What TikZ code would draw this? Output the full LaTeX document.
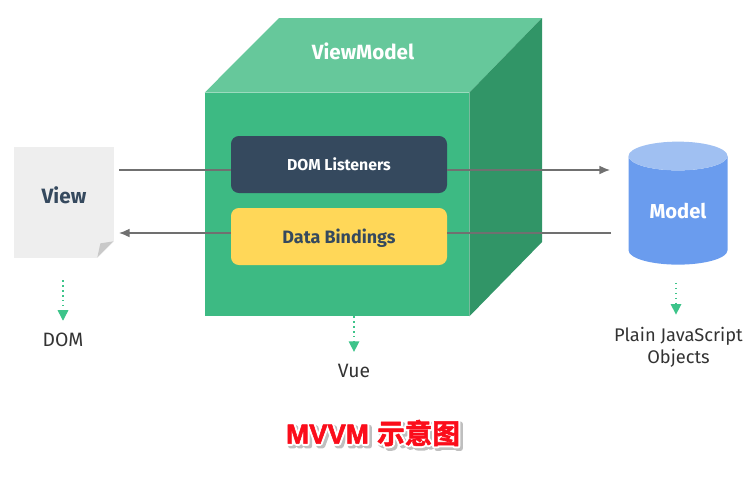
\documentclass[tikz,border=0pt]{standalone}
\usepackage{fontspec}
\setmainfont{Fira Sans}
\newfontfamily\titlefont{Liberation Sans}[BoldFont={Liberation Sans Bold}]
\newfontfamily\cjkfont{Noto Sans CJK SC}[BoldFont={Noto Sans CJK SC Bold}]
\usepackage{xcolor}
\usetikzlibrary{
    positioning,
    arrows.meta,
    shapes.geometric,
    calc
}
\definecolor{cubefront}{HTML}{3DBA83}
\definecolor{cubetop}{HTML}{66C89B}
\definecolor{cubeside}{HTML}{319567}
\definecolor{navy}{HTML}{35495E}
\definecolor{bindyellow}{HTML}{FFD758}
\definecolor{paper}{HTML}{EEEEEE}
\definecolor{foldgrey}{HTML}{C9C9C9}
\definecolor{modelblue}{HTML}{6A9CEE}
\definecolor{modeltop}{HTML}{A0C0F2}
\definecolor{linegrey}{HTML}{707070}
\definecolor{dotgreen}{HTML}{3DC48A}
\definecolor{titlered}{HTML}{FB0D1B}

\begin{document}
\begin{tikzpicture}[font=\fontsize{11}{13}\selectfont,
    ibox/.style={rounded corners=4.5pt, minimum width=4.32cm, minimum height=1.14cm,
                 align=center, inner sep=0pt, font=\fontsize{9}{11}\selectfont\bfseries},
    arr/.style={-{Latex[length=6pt,width=5pt]}, line width=0.75pt, draw=linegrey},
    plainline/.style={line width=0.75pt, draw=linegrey},
    dotarr/.style={-{Triangle[length=6pt,width=6pt]}, dotted, line width=0.8pt, draw=dotgreen},
    labl/.style={align=center, inner sep=0pt, text=black!80},
    titletxt/.style={inner sep=0pt, font=\fontsize{15.7}{18}\selectfont\bfseries}]

    \useasboundingbox (0,0) rectangle (15.08,9.6);

    % ViewModel cube
    \node[fill=cubefront, minimum width=5.28cm, minimum height=4.46cm, inner sep=0pt] (front) at (6.74,5.51) {};
    \coordinate (backL) at (5.58,9.24);
    \coordinate (backR) at (10.84,9.24);
    \coordinate (sideB) at (10.84,4.76);
    \fill[cubetop] (front.north west) -- (backL) -- (backR) -- (front.north east) -- cycle;
    \fill[cubeside] (front.north east) -- (backR) -- (sideB) -- (front.south east) -- cycle;
    \node[text=white, inner sep=0pt, font=\fontsize{11.7}{13}\selectfont\bfseries] (vmlabel) at (7.26,8.58) {ViewModel};

    \node[ibox, fill=navy, text=white, text depth=0pt] (listeners) at (6.78,6.31) {DOM Listeners};
    \node[ibox, fill=bindyellow, text=navy, text depth=0pt, font=\fontsize{10.2}{12}\selectfont\bfseries] (bindings) at (6.78,4.87) {Data Bindings};

    % View page
    \node[fill=paper, minimum width=2.0cm, minimum height=2.22cm, inner sep=0pt,
          label={[text=navy, font=\fontsize{11.8}{13}\selectfont\bfseries, yshift=0.14cm]center:View}] (view) at (1.28,5.55) {};
    \fill[white] (view.south east) -- +(0,0.34) -- +(-0.34,0) -- cycle;
    \fill[foldgrey] ($(view.south east)+(-0.02,0.34)$) -- ($(view.south east)+(-0.28,0.30)$) -- ($(view.south east)+(-0.34,0.02)$) -- cycle;

    % Model cylinder
    \node[cylinder, shape border rotate=90, aspect=0.505, minimum width=1.98cm, minimum height=2.46cm,
          inner sep=0pt, cylinder uses custom fill, cylinder body fill=modelblue, cylinder end fill=modeltop,
          text=white, font=\fontsize{11.5}{13}\selectfont\bfseries] (model) at (13.56,5.39) {Model};

    % links
    \coordinate (viewA) at (2.38,6.20);
    \coordinate (viewB) at (2.38,4.94);
    \coordinate (modelA) at (12.20,6.20);
    \coordinate (modelB) at (12.22,4.94);
    \draw[plainline] (viewA) -- (listeners.west |- viewA);
    \draw[arr] (listeners.east |- modelA) -- (modelA);
    \draw[plainline] (modelB) -- (bindings.east |- modelB);
    \draw[arr] (bindings.west |- viewB) -- (viewB);

    % labels below
    \node[labl] (dom) at (1.26,2.80) {DOM};
    \node[labl] (vue) at (7.08,2.18) {Vue};
    \node[labl, font=\fontsize{10.4}{12.5}\selectfont] (objects) at (13.57,2.66) {Plain JavaScript\\Objects};

    \draw[dotarr, shorten <=0.44cm, shorten >=0.24cm] (view.south -| dom.north) -- (dom.north);
    \draw[dotarr, shorten >=0.24cm] (front.south -| vue.north) -- (vue.north);
    \draw[dotarr, shorten <=0.36cm, shorten >=0.24cm] ([xshift=-0.05cm]model.south -| objects.north) -- ([xshift=-0.05cm]objects.north);

    % caption
    \node[titletxt, text=black!25] (titleshadow) at (7.51,0.89)
      {\special{pdf:code 2 Tr 1 j 1 J 2.6 w 0.75 G}\titlefont MVVM\hspace{0.3em}\cjkfont 示意图\special{pdf:code 0 Tr}};
    \node[titletxt, text=white] (titlehalo) at (7.46,0.94)
      {\special{pdf:code 2 Tr 1 j 1 J 2.6 w 1 G}\titlefont MVVM\hspace{0.3em}\cjkfont 示意图\special{pdf:code 0 Tr}};
    \node[titletxt, text=titlered] (title) at (7.46,0.94)
      {\special{pdf:code 2 Tr 1 j 1 J 0.3 w 0.984 0.051 0.106 RG}\titlefont MVVM\hspace{0.3em}\cjkfont 示意图\special{pdf:code 0 Tr}};
\end{tikzpicture}
\end{document}
